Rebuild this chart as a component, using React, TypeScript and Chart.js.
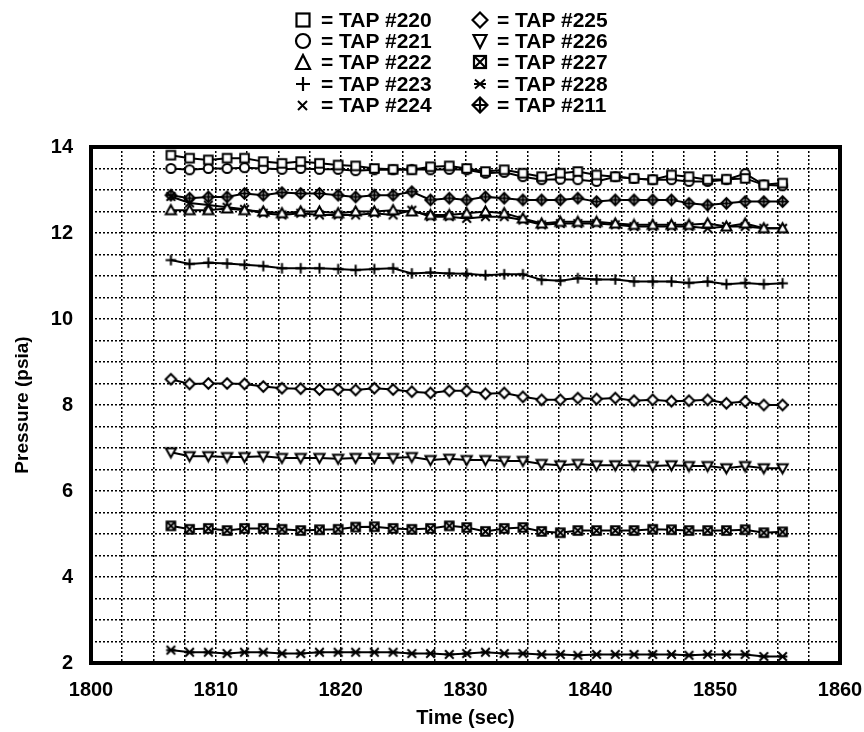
import React, { useEffect, useRef } from "react";
import { Chart, registerables } from "chart.js";

Chart.register(...registerables);

// Time stamps (sec)
const times = [
  1806.4, 1807.9, 1809.4, 1810.9, 1812.3, 1813.8, 1815.3, 1816.8, 1818.3, 1819.8,
  1821.2, 1822.7, 1824.2, 1825.7, 1827.2, 1828.7, 1830.1, 1831.6, 1833.1, 1834.6,
  1836.1, 1837.6, 1839.0, 1840.5, 1842.0, 1843.5, 1845.0, 1846.5, 1847.9, 1849.4,
  1850.9, 1852.4, 1853.9, 1855.4,
];

const tap220 = [13.81, 13.74, 13.70, 13.74, 13.74, 13.66, 13.62, 13.66, 13.62, 13.58, 13.56, 13.50, 13.48, 13.47, 13.54, 13.56, 13.50, 13.43, 13.47, 13.39, 13.31, 13.39, 13.43, 13.35, 13.31, 13.27, 13.24, 13.35, 13.31, 13.24, 13.25, 13.27, 13.12, 13.16];
const tap221 = [13.50, 13.47, 13.50, 13.50, 13.52, 13.50, 13.48, 13.50, 13.48, 13.48, 13.45, 13.47, 13.47, 13.48, 13.47, 13.48, 13.47, 13.39, 13.41, 13.31, 13.24, 13.25, 13.24, 13.20, 13.31, 13.27, 13.24, 13.24, 13.20, 13.20, 13.24, 13.38, 13.12, 13.10];
const tap222 = [12.53, 12.53, 12.53, 12.57, 12.53, 12.50, 12.46, 12.50, 12.50, 12.46, 12.50, 12.50, 12.53, 12.50, 12.42, 12.42, 12.46, 12.50, 12.46, 12.34, 12.22, 12.26, 12.26, 12.26, 12.22, 12.19, 12.19, 12.19, 12.19, 12.22, 12.15, 12.22, 12.11, 12.11];
const tap223 = [11.37, 11.28, 11.31, 11.29, 11.26, 11.23, 11.18, 11.18, 11.18, 11.16, 11.14, 11.16, 11.18, 11.06, 11.08, 11.06, 11.05, 11.02, 11.04, 11.04, 10.91, 10.89, 10.95, 10.92, 10.92, 10.87, 10.87, 10.87, 10.84, 10.87, 10.81, 10.84, 10.81, 10.83];
const tap224 = [12.85, 12.70, 12.65, 12.60, 12.55, 12.46, 12.42, 12.46, 12.42, 12.42, 12.42, 12.46, 12.42, 12.53, 12.38, 12.38, 12.34, 12.38, 12.38, 12.30, 12.19, 12.22, 12.22, 12.22, 12.19, 12.15, 12.15, 12.15, 12.15, 12.11, 12.15, 12.15, 12.11, 12.11];
const tap225 = [8.60, 8.49, 8.50, 8.50, 8.49, 8.43, 8.39, 8.38, 8.36, 8.36, 8.35, 8.39, 8.36, 8.31, 8.28, 8.33, 8.33, 8.26, 8.28, 8.19, 8.12, 8.12, 8.16, 8.14, 8.16, 8.10, 8.12, 8.09, 8.10, 8.12, 8.04, 8.08, 8.00, 8.00];
const tap226 = [6.90, 6.81, 6.81, 6.79, 6.79, 6.81, 6.77, 6.77, 6.77, 6.75, 6.77, 6.77, 6.77, 6.79, 6.72, 6.75, 6.72, 6.72, 6.70, 6.70, 6.63, 6.60, 6.63, 6.60, 6.60, 6.60, 6.58, 6.60, 6.58, 6.58, 6.53, 6.58, 6.53, 6.53];
const tap227 = [5.19, 5.11, 5.13, 5.08, 5.13, 5.13, 5.11, 5.08, 5.10, 5.11, 5.16, 5.17, 5.13, 5.11, 5.13, 5.19, 5.15, 5.06, 5.13, 5.15, 5.06, 5.03, 5.08, 5.08, 5.08, 5.08, 5.11, 5.10, 5.08, 5.08, 5.08, 5.10, 5.03, 5.05];
const tap228 = [2.30, 2.25, 2.25, 2.22, 2.25, 2.25, 2.22, 2.22, 2.25, 2.25, 2.25, 2.25, 2.25, 2.22, 2.22, 2.20, 2.22, 2.25, 2.22, 2.22, 2.20, 2.20, 2.18, 2.20, 2.20, 2.20, 2.20, 2.20, 2.18, 2.20, 2.20, 2.20, 2.15, 2.15];
const tap211 = [12.88, 12.81, 12.84, 12.84, 12.92, 12.88, 12.94, 12.92, 12.92, 12.88, 12.84, 12.88, 12.88, 12.96, 12.77, 12.81, 12.77, 12.84, 12.81, 12.77, 12.77, 12.77, 12.81, 12.73, 12.77, 12.77, 12.77, 12.77, 12.69, 12.65, 12.69, 12.73, 12.73, 12.73];

const seriesNames = ["TAP #220", "TAP #221", "TAP #222", "TAP #223", "TAP #224", "TAP #225", "TAP #226", "TAP #227", "TAP #228", "TAP #211"];
const seriesValues = [tap220, tap221, tap222, tap223, tap224, tap225, tap226, tap227, tap228, tap211];
const seriesMarkers = ["square", "circle", "triangle", "plus", "x", "diamond", "tridown", "boxx", "asterisk", "diamondplus"];

const xMin = 1800, xMax = 1860, xGridStep = 2.5, xLabelStep = 10;
const yMin = 2, yMax = 14, yGridStep = 0.5, yLabelStep = 2;

function tracePath(g: CanvasRenderingContext2D, kind: string, m: number, r: number) {
  g.beginPath();
  switch (kind) {
    case "square":
    case "boxx":
      g.rect(m - r, m - r, 2 * r, 2 * r);
      break;
    case "circle":
      g.arc(m, m, r + 0.3, 0, Math.PI * 2);
      break;
    case "triangle":
      g.moveTo(m, m - r - 0.8);
      g.lineTo(m + r + 0.8, m + r - 0.3);
      g.lineTo(m - r - 0.8, m + r - 0.3);
      g.closePath();
      break;
    case "tridown":
      g.moveTo(m, m + r + 0.8);
      g.lineTo(m + r + 0.8, m - r + 0.3);
      g.lineTo(m - r - 0.8, m - r + 0.3);
      g.closePath();
      break;
    case "diamond":
    case "diamondplus":
      g.moveTo(m, m - r - 1);
      g.lineTo(m + r + 1, m);
      g.lineTo(m, m + r + 1);
      g.lineTo(m - r - 1, m);
      g.closePath();
      break;
    default:
      break;
  }
}

function makeMarker(kind: string): HTMLCanvasElement {
  const s = 15;
  const c = document.createElement("canvas");
  c.width = s;
  c.height = s;
  const g = c.getContext("2d")!;
  const m = s / 2;
  const r = 4.3;
  g.strokeStyle = "#000";
  g.fillStyle = "#fff";
  g.lineWidth = 2;
  if (kind === "plus") {
    g.beginPath();
    g.moveTo(m - r - 1, m); g.lineTo(m + r + 1, m);
    g.moveTo(m, m - r - 1); g.lineTo(m, m + r + 1);
    g.stroke();
    return c;
  }
  if (kind === "x") {
    g.beginPath();
    g.moveTo(m - r, m - r); g.lineTo(m + r, m + r);
    g.moveTo(m + r, m - r); g.lineTo(m - r, m + r);
    g.stroke();
    return c;
  }
  if (kind === "asterisk") {
    g.beginPath();
    g.moveTo(m - r, m - r); g.lineTo(m + r, m + r);
    g.moveTo(m + r, m - r); g.lineTo(m - r, m + r);
    g.moveTo(m - r - 0.5, m); g.lineTo(m + r + 0.5, m);
    g.stroke();
    return c;
  }
  tracePath(g, kind, m, r);
  g.fill();
  g.stroke();
  if (kind === "boxx") {
    g.beginPath();
    g.moveTo(m - r, m - r); g.lineTo(m + r, m + r);
    g.moveTo(m + r, m - r); g.lineTo(m - r, m + r);
    g.stroke();
  }
  if (kind === "diamondplus") {
    g.beginPath();
    g.moveTo(m - r - 1, m); g.lineTo(m + r + 1, m);
    g.moveTo(m, m - r - 1); g.lineTo(m, m + r + 1);
    g.stroke();
  }
  return c;
}

function LegendIcon({ kind }: { kind: string }) {
  const sw = 2.2;
  const common = { fill: "none", stroke: "#000", strokeWidth: sw } as any;
  let body: any = null;
  switch (kind) {
    case "square":
      body = <rect x={2.5} y={2.5} width={13} height={13} {...common} />;
      break;
    case "circle":
      body = <circle cx={9} cy={9} r={7} {...common} />;
      break;
    case "triangle":
      body = <polygon points="9,2 16,16 2,16" {...common} />;
      break;
    case "plus":
      body = <path d="M2 9 H16 M9 2 V16" {...common} />;
      break;
    case "x":
      body = <path d="M4 5 L13 14 M13 5 L4 14" {...common} strokeWidth={2} />;
      break;
    case "diamond":
      body = <polygon points="9,1.5 16.5,9 9,16.5 1.5,9" {...common} />;
      break;
    case "tridown":
      body = <polygon points="2.5,3 15.5,3 9,16" {...common} />;
      break;
    case "boxx":
      body = (
        <g>
          <rect x={3} y={3} width={12} height={12} {...common} />
          <path d="M3 3 L15 15 M15 3 L3 15" {...common} />
        </g>
      );
      break;
    case "asterisk":
      body = <path d="M4 4.5 L14 13.5 M14 4.5 L4 13.5 M3 9 H15" {...common} strokeWidth={2} />;
      break;
    case "diamondplus":
      body = (
        <g>
          <polygon points="9,1.5 16.5,9 9,16.5 1.5,9" {...common} />
          <path d="M1.5 9 H16.5 M9 1.5 V16.5" {...common} />
        </g>
      );
      break;
  }
  return (
    <svg width={18} height={18} viewBox="0 0 18 18" style={{ display: "block" }}>
      {body}
    </svg>
  );
}

const legendCols = [
  { sx: 303, tx: 321, items: [0, 1, 2, 3, 4] },
  { sx: 480, tx: 497, items: [5, 6, 7, 8, 9] },
];
const legendRows = [20, 41, 62, 84, 105];

export default function App() {
  const canvasRef = useRef<HTMLCanvasElement | null>(null);

  useEffect(() => {
    const canvas = canvasRef.current;
    if (!canvas) return;

    const framePlugin = {
      id: "frame",
      beforeDatasetsDraw(chart: any) {
        const { ctx, chartArea } = chart;
        const { left, top, right, bottom } = chartArea;
        ctx.save();
        ctx.strokeStyle = "#000";
        ctx.lineWidth = 4;
        ctx.strokeRect(left, top, right - left, bottom - top);
        ctx.restore();
      },
    };

    const datasets = seriesValues.map((vals, i) => ({
      label: seriesNames[i],
      data: times.map((t, j) => ({ x: t, y: vals[j] })),
      borderColor: "#000",
      backgroundColor: "#000",
      borderWidth: 2,
      pointStyle: makeMarker(seriesMarkers[i]) as any,
      pointRadius: 5,
      tension: 0,
      fill: false,
    }));

    const tickFont = { family: "'Liberation Sans', Arial, sans-serif", size: 20, weight: "bold" as const };

    const chart = new Chart(canvas, {
      type: "line",
      data: { datasets },
      plugins: [framePlugin],
      options: {
        animation: false,
        responsive: false,
        maintainAspectRatio: false,
        layout: { padding: { top: 147, right: 24, left: 0, bottom: 0 } },
        plugins: {
          legend: { display: false },
          tooltip: { enabled: false },
          title: { display: false },
        },
        scales: {
          x: {
            type: "linear",
            min: xMin,
            max: xMax,
            afterFit: (scale: any) => {
              scale.height = 69;
              scale.paddingLeft = 0;
              scale.paddingRight = 0;
            },
            ticks: {
              stepSize: xGridStep,
              maxTicksLimit: 100,
              autoSkip: false,
              maxRotation: 0,
              minRotation: 0,
              padding: 15,
              color: "#000",
              font: tickFont,
              callback: (v: any) => {
                const n = Number(v);
                return Math.abs(n / xLabelStep - Math.round(n / xLabelStep)) < 1e-6 ? String(n) : "";
              },
            },
            grid: { color: "#000", lineWidth: 1.5, drawTicks: false },
            border: { display: false, dash: [2, 2] },
            title: {
              display: true,
              text: "Time (sec)",
              color: "#000",
              font: { family: "'Liberation Sans', Arial, sans-serif", size: 20, weight: "bold" },
              padding: { top: 0, bottom: 2 },
            },
          },
          y: {
            type: "linear",
            min: yMin,
            max: yMax,
            afterFit: (scale: any) => {
              scale.width = 91;
            },
            ticks: {
              stepSize: yGridStep,
              maxTicksLimit: 100,
              autoSkip: false,
              padding: 18,
              color: "#000",
              font: tickFont,
              callback: (v: any) => {
                const n = Number(v);
                return Math.abs(n / yLabelStep - Math.round(n / yLabelStep)) < 1e-6 ? String(n) : "";
              },
            },
            grid: { color: "#000", lineWidth: 1.5, drawTicks: false },
            border: { display: false, dash: [2, 2] },
            title: {
              display: true,
              text: "Pressure (psia)",
              color: "#000",
              font: { family: "'Liberation Sans', Arial, sans-serif", size: 19, weight: "bold" },
              padding: { top: 11, bottom: 0 },
            },
          },
        },
      },
    });

    return () => {
      chart.destroy();
    };
  }, []);

  return (
    <div style={{ position: "absolute", left: 0, top: 0, width: 864, height: 732, background: "#fff" }}>
      <canvas ref={canvasRef} width={864} height={732} style={{ position: "absolute", left: 0, top: 0, width: 864, height: 732 }} />
      {legendCols.map((col, ci) =>
        col.items.map((idx, ri) => (
          <React.Fragment key={`${ci}-${ri}`}>
            <div style={{ position: "absolute", left: col.sx - 9, top: legendRows[ri] - 9, width: 18, height: 18 }}>
              <LegendIcon kind={seriesMarkers[idx]} />
            </div>
            <div
              style={{
                position: "absolute",
                left: col.tx,
                top: legendRows[ri] - 12,
                height: 24,
                lineHeight: "24px",
                fontFamily: "'Liberation Sans', Arial, sans-serif",
                fontWeight: "bold",
                fontSize: 21,
                color: "#000",
                whiteSpace: "nowrap",
              }}
            >
              {"= " + seriesNames[idx]}
            </div>
          </React.Fragment>
        ))
      )}
    </div>
  );
}
